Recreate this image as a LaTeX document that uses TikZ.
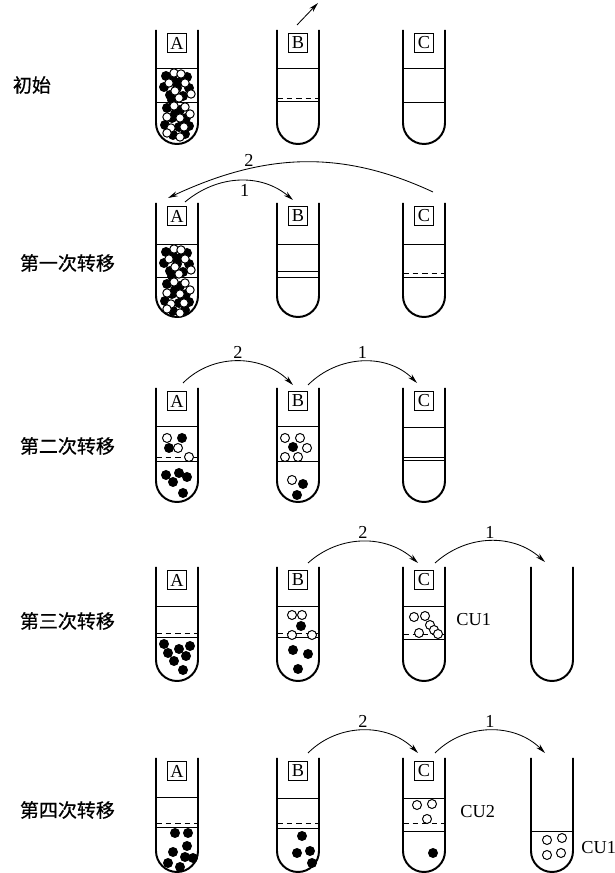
\documentclass[tikz,border=0pt]{standalone}
\usepackage{fontspec}
\setmainfont{Liberation Serif}
\newfontfamily\cjk[FakeBold=0.7]{Noto Sans CJK SC}
\usetikzlibrary{arrows.meta}

\begin{document}
\begin{tikzpicture}[x=0.025cm, y=0.025cm,
  wall/.style={line width=1.4pt},
  layer/.style={line width=0.6pt},
  band/.style={line width=0.6pt, dash pattern=on 4pt off 2.8pt},
  full/.style={fill=black},
  empty/.style={draw=black, fill=white, line width=0.7pt},
  tag/.style={draw, line width=0.7pt, minimum size=0.48cm, inner sep=0pt, font=\fontsize{13}{15}\selectfont},
  num/.style={font=\fontsize{13}{15}\selectfont, inner sep=1.5pt},
  stage/.style={anchor=west, font=\fontsize{13.5}{16}\cjk},
  move/.style={-{Stealth[length=7pt,width=3.6pt]}, line width=0.6pt},
  tube/.pic={\draw[wall] (-21,0) -- (-21,-93) arc[start angle=180, end angle=360, radius=21] -- (21,0);},
  pack/.pic={
    \foreach \x/\y in {-11/-46,-4/-50,10/-47,-13/-57,0/-58,12/-58,-7/-65,6/-66,3/-52,-5/-70,
                       -10/-78,3/-80,-5/-88,9/-88,-12/-95,2/-97,-4/-105,8/-104,12/-96,-2/-84,6/-92}
      \fill[full] (\x,\y) circle (5);
    \foreach \x/\y in {-3/-43,4/-44,-8/-53,8/-53,-2/-61,14/-64,2/-68,
                       -3/-76,8/-77,-10/-87,3/-88,13/-84,-6/-98,7/-97,-10/-103,3/-107}
      \draw[empty] (\x,\y) circle (4.2);
  }
]
\useasboundingbox (0,0) rectangle (615,873);

% stage names
\node[stage] (s0) at (8,788) {初始};
\node[stage] (s1) at (15,610) {第一次转移};
\node[stage] (s2) at (15,427) {第二次转移};
\node[stage] (s3) at (15,252) {第三次转移};
\node[stage] (s4) at (15,63) {第四次转移};

% start
\begin{scope}[shift={(0,843)}]
  \pic at (177,0) {tube}; \pic at (298,0) {tube}; \pic at (424,0) {tube};
  \node[tag] (r1a) at (177,-13) {A};
  \node[tag] (r1b) at (298,-13) {B};
  \node[tag] (r1c) at (424,-13) {C};
  \draw[layer] (156,-38) -- (198,-38); \draw[layer] (156,-72) -- (198,-72);
  \draw[layer] (277,-38) -- (319,-38); \draw[band] (277,-68) -- (319,-68);
  \draw[layer] (277,-71) -- (319,-71);
  \draw[layer] (403,-38) -- (445,-38); \draw[layer] (403,-72) -- (445,-72);
  \pic at (177,0) {pack};
  \coordinate (r1s) at (297,5); \coordinate (r1e) at (318,27);
  \draw[move] (r1s) -- (r1e);
\end{scope}

% first transfer
\begin{scope}[shift={(0,670)}]
  \pic at (177,0) {tube}; \pic at (298,0) {tube}; \pic at (424,0) {tube};
  \node[tag] (r2a) at (177,-13) {A};
  \node[tag] (r2b) at (298,-13) {B};
  \node[tag] (r2c) at (424,-13) {C};
  \draw[layer] (156,-41) -- (198,-41); \draw[layer] (156,-74) -- (198,-74);
  \draw[layer] (277,-41) -- (319,-41); \draw[layer] (277,-68) -- (319,-68);
  \draw[layer] (277,-74) -- (319,-74);
  \draw[layer] (403,-41) -- (445,-41); \draw[band] (403,-70) -- (445,-70);
  \draw[layer] (403,-74) -- (445,-74);
  \pic at (177,-3) {pack};
  \coordinate (r2s1) at (185,1); \coordinate (r2e1) at (293,3);
  \coordinate (r2s2) at (433,11); \coordinate (r2e2) at (168,5);
  \draw[move] (r2s1) to[out=40,in=140] node[num,pos=0.55,below=1pt] {1} (r2e1);
  \draw[move] (r2s2) to[out=155,in=25] node[num,pos=0.7,above] {2} (r2e2);
\end{scope}

% second transfer
\begin{scope}[shift={(0,485)}]
  \pic at (177,0) {tube}; \pic at (298,0) {tube}; \pic at (424,0) {tube};
  \node[tag] (r3a) at (177,-13) {A};
  \node[tag] (r3b) at (298,-13) {B};
  \node[tag] (r3c) at (424,-13) {C};
  \draw[layer] (156,-38) -- (198,-38); \draw[band] (156,-69) -- (198,-69);
  \draw[layer] (156,-73) -- (198,-73);
  \draw[layer] (277,-38) -- (319,-38); \draw[layer] (277,-73) -- (319,-73);
  \draw[layer] (403,-39) -- (445,-39); \draw[layer] (403,-69) -- (445,-69);
  \draw[layer] (403,-72) -- (445,-72);
  \foreach \x/\y in {182/-50,169/-60,166/-87,179/-85,187/-89,173/-94,183/-105,
                     293/-59,303/-96,297/-107}
    \fill[full] (\x,\y) circle (5);
  \foreach \x/\y in {167/-50,178/-60,189/-69,285/-50,300/-50,307/-60,285/-69,298/-69,292/-92}
    \draw[empty] (\x,\y) circle (4.5);
  \coordinate (r3s1) at (183,5); \coordinate (r3e1) at (293,3);
  \coordinate (r3s2) at (308,3); \coordinate (r3e2) at (417,5);
  \draw[move] (r3s1) to[out=45,in=135] node[num,above] {2} (r3e1);
  \draw[move] (r3s2) to[out=45,in=135] node[num,above] {1} (r3e2);
\end{scope}

% third transfer
\begin{scope}[shift={(0,306)}]
  \pic at (177,0) {tube}; \pic at (298,0) {tube}; \pic at (424,0) {tube};
  \pic at (552,0) {tube};
  \node[tag] (r4a) at (177,-13) {A};
  \node[tag] (r4b) at (298,-13) {B};
  \node[tag] (r4c) at (424,-13) {C};
  \draw[layer] (156,-39) -- (198,-39); \draw[band] (156,-66) -- (198,-66);
  \draw[layer] (156,-70) -- (198,-70);
  \draw[layer] (277,-39) -- (319,-39); \draw[band] (277,-66) -- (319,-66);
  \draw[layer] (277,-70) -- (319,-70);
  \draw[layer] (403,-39) -- (445,-39); \draw[band] (403,-67) -- (445,-67);
  \draw[layer] (403,-72) -- (445,-72);
  \foreach \x/\y in {164/-77,168/-86,179/-82,190/-79,186/-89,174/-94,183/-103,
                     301/-59,293/-83,308/-87,298/-102}
    \fill[full] (\x,\y) circle (5);
  \foreach \x/\y in {292/-48,302/-48,292/-68,312/-68,
                     414/-50,425/-49,430/-58,419/-66,434/-63,438/-67}
    \draw[empty] (\x,\y) circle (4.5);
  \node[num,anchor=west] (cu1) at (454,-53) {CU1};
  \coordinate (r4s1) at (308,4); \coordinate (r4e1) at (418,4);
  \coordinate (r4s2) at (435,4); \coordinate (r4e2) at (545,5);
  \draw[move] (r4s1) to[out=42,in=138] node[num,above] {2} (r4e1);
  \draw[move] (r4s2) to[out=42,in=138] node[num,above] {1} (r4e2);
\end{scope}

% fourth transfer
\begin{scope}[shift={(0,115)}]
  \pic at (177,0) {tube}; \pic at (298,0) {tube}; \pic at (424,0) {tube};
  \pic at (552,0) {tube};
  \node[tag] (r5a) at (177,-13) {A};
  \node[tag] (r5b) at (298,-13) {B};
  \node[tag] (r5c) at (424,-13) {C};
  \draw[layer] (156,-39) -- (198,-39); \draw[band] (156,-65) -- (198,-65);
  \draw[layer] (156,-69) -- (198,-69);
  \draw[layer] (277,-40) -- (319,-40); \draw[band] (277,-65) -- (319,-65);
  \draw[layer] (277,-70) -- (319,-70);
  \draw[layer] (403,-40) -- (445,-40); \draw[band] (403,-65) -- (445,-65);
  \draw[layer] (403,-73) -- (445,-73);
  \draw[layer] (531,-73) -- (573,-73);
  \foreach \x/\y in {175/-75,188/-75,187/-88,173/-94,185/-99,193/-100,168/-105,180/-109,
                     302/-78,297/-95,310/-93,312/-105,433/-95}
    \fill[full] (\x,\y) circle (5);
  \foreach \x/\y in {417/-47,432/-46,427/-61,547/-82,562/-80,547/-97,561/-95}
    \draw[empty] (\x,\y) circle (4.5);
  \node[num,anchor=west] (cu2) at (458,-54) {CU2};
  \node[num,anchor=west] (cu1b) at (579,-90) {CU1};
  \coordinate (r5s1) at (308,5); \coordinate (r5e1) at (418,5);
  \coordinate (r5s2) at (435,5); \coordinate (r5e2) at (545,5);
  \draw[move] (r5s1) to[out=45,in=135] node[num,above] {2} (r5e1);
  \draw[move] (r5s2) to[out=45,in=135] node[num,above] {1} (r5e2);
\end{scope}
\end{tikzpicture}
\end{document}
